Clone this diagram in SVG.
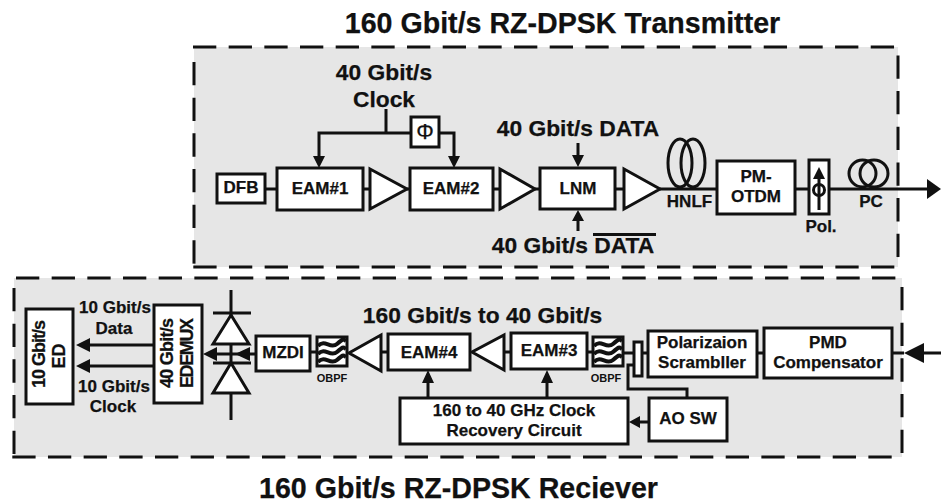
<svg xmlns="http://www.w3.org/2000/svg" width="941" height="502" viewBox="0 0 941 502">
<style>
text{font-family:"Liberation Sans",Arial,sans-serif;font-weight:bold;fill:#111;text-anchor:middle;stroke:#111;stroke-width:.25}
.t{font-size:28.6px}.m{font-size:22.8px}.s{font-size:17px}.r{font-size:18px}.x{font-size:11px;stroke-width:0}
.b{fill:#fff;stroke:#111;stroke-width:3}
.l{fill:none;stroke:#111;stroke-width:3}
.d{fill:none;stroke:#111;stroke-width:3;stroke-dasharray:23.3 12.37}
.h{fill:#111;stroke:none}
.w{fill:#fff;stroke:#111;stroke-width:3}
</style>
<defs>
<g id="filter">
<rect class="b" width="30" height="29"/>
<path d="M1 9C8 1 13 13 20 7S26 2 29 4M1 17C8 9 13 21 20 15S26 10 29 12M1 25C8 17 13 29 20 23S26 18 29 20" fill="none" stroke="#111" stroke-width="4"/>
</g>
</defs>
<rect x="194" y="47" width="704" height="220" fill="#e6e6e6"/>
<rect x="14" y="278" width="888" height="179" fill="#e6e6e6"/>
<g id="frames">
<path class="d" d="M193 47H898"/>
<path class="d" d="M898 55.400V267"/>
<path class="d" d="M193.300 267H898"/>
<path class="d" d="M194 62V267"/>
<path class="d" d="M16 278H902"/>
<path class="d" d="M902 287V457"/>
<path class="d" d="M12.300 457H902"/>
<path class="d" d="M14 288V457"/>
</g>
<g id="connectors">
<path class="l" d="M265 189H277M363 189H370M407 189H410M493 189H500M535 189H540M615 189H624M660 189H717M795 189H809M829 189H928"/>
<path class="l" d="M386 109V133M411 133H319V156M439 133H454V156"/>
<path class="l" d="M578 143V156M578 231V220"/>
<path class="h" d="M319 168L313 156H325ZM454 168L448 156H460ZM578 167L572 155H584ZM578 210L572 221H584Z"/>
<path class="h" d="M941 189L927 179V199Z"/>
<path class="l" d="M941 353H920M892 353H904M757 353H764M642 353H648M623 353H634M587 352H593M504 352H511M381 352H388M310 352H317M256 354H210"/>
<path class="h" d="M904 353L924 343V363Z"/>
<path class="l" d="M428 398V382M547 398V382M649 422H638M687 398V389H628V365H634"/>
<path class="h" d="M428 370L422 383H434ZM547 370L541 383H553ZM629 422L640 416V428Z"/>
<path class="l" d="M154 345H88M154 366H88"/>
<path class="h" d="M76 345L90 338V352ZM76 366L90 359V373ZM203 354L217 347V361ZM235 354L250 347V361Z"/>
</g>
<g id="dfb"><rect class="b" x="217" y="174" width="48" height="29"/><text class="s" x="241" y="193">DFB</text></g>
<g id="eam1"><rect class="b" x="277" y="168" width="86" height="42"/><text class="s" x="320" y="194">EAM#1</text></g>
<path id="amp1" class="b" d="M370 169L407 189L370 209Z"/>
<g id="eam2"><rect class="b" x="410" y="168" width="83" height="42"/><text class="s" x="451" y="194">EAM#2</text></g>
<path id="amp2" class="b" d="M500 169L535 189L500 209Z"/>
<g id="lnm"><rect class="b" x="540" y="168" width="75" height="41"/><text class="s" x="578" y="194">LNM</text></g>
<path id="amp3" class="b" d="M624 169L660 189L624 209Z"/>
<g id="phase"><rect class="b" x="411" y="117" width="28" height="30"/><text x="425" y="139" style="font-size:22px;font-weight:normal">Φ</text></g>
<g id="hnlf"><ellipse class="l" cx="680" cy="163" rx="12" ry="24"/><ellipse class="l" cx="693" cy="163" rx="12" ry="24"/><text class="s" x="689.500" y="207">HNLF</text></g>
<g id="otdm"><rect class="b" x="717" y="161" width="78" height="53"/><text class="s" x="756" y="182">PM-</text><text class="s" x="756" y="202">OTDM</text></g>
<g id="pol"><rect class="b" x="809" y="160" width="20" height="54"/><path class="l" d="M819 210V177"/><path class="h" d="M819 167L813 179H825Z"/><circle class="l" cx="819" cy="190" r="5.500"/><text class="s" x="821" y="232">Pol.</text></g>
<g id="pc"><ellipse class="l" cx="862.500" cy="173.500" rx="13.500" ry="13.500"/><ellipse class="l" cx="874" cy="173.500" rx="14" ry="13.500"/><text class="s" x="871" y="207">PC</text></g>
<g id="ed"><rect class="b" x="26" y="309" width="47" height="95"/><text class="r" transform="translate(45 354) rotate(-90)" textLength="68">10 Gbit/s</text><text class="r" transform="translate(65 356) rotate(-90)">ED</text></g>
<g id="edemux"><rect class="b" x="154" y="305" width="48" height="98"/><text class="r" transform="translate(173 353) rotate(-90)" textLength="70">40 Gbit/s</text><text class="r" transform="translate(193 353) rotate(-90)" textLength="70">EDEMUX</text></g>
<g id="diodes">
<path class="l" d="M231 290V344M231 393V420M213 313H251M213 363H251"/>
<path class="w" d="M231 315L249 344H213Z"/>
<path class="w" d="M231 363L249 393H213Z"/>
<path class="l" d="M231 344V363"/>
</g>
<g id="mzdi"><rect class="b" x="256" y="336" width="54" height="35"/><text class="s" x="283" y="358">MZDI</text></g>
<g id="obpf1"><use href="#filter" x="317" y="337"/><text class="x" x="332" y="382">OBPF</text></g>
<path id="amp4" class="b" d="M381 335V371L349 353Z"/>
<g id="eam4"><rect class="b" x="388" y="334" width="82" height="36"/><text class="s" x="429" y="358">EAM#4</text></g>
<path id="amp5" class="b" d="M504 335V370L472 352Z"/>
<g id="eam3"><rect class="b" x="511" y="333" width="76" height="36"/><text class="s" x="549" y="356">EAM#3</text></g>
<g id="obpf2"><use href="#filter" x="593" y="337"/><text class="x" x="606" y="382">OBPF</text></g>
<rect id="stick" class="b" x="634" y="342" width="8" height="34"/>
<g id="scrambler"><rect class="b" x="648" y="331" width="109" height="46"/><text class="s" x="702" y="348">Polarizaion</text><text class="s" x="702" y="368">Scrambller</text></g>
<g id="pmd"><rect class="b" x="764" y="328" width="128" height="50"/><text class="s" x="828" y="348">PMD</text><text class="s" x="828" y="368">Compensator</text></g>
<g id="clock"><rect class="b" x="400" y="398" width="228" height="46"/><text class="s" x="514" y="416">160 to 40 GHz Clock</text><text class="s" x="514" y="436">Recovery Circuit</text></g>
<g id="aosw"><rect class="b" x="649" y="398" width="78" height="43"/><text class="s" x="688" y="424">AO SW</text></g>
<g id="labels">
<text class="t" x="562.500" y="33">160 Gbit/s RZ-DPSK Transmitter</text>
<text class="t" x="458.500" y="498">160 Gbit/s RZ-DPSK Reciever</text>
<text class="m" x="384" y="80">40 Gbit/s</text>
<text class="m" x="384" y="107">Clock</text>
<text class="m" x="578" y="136">40 Gbit/s DATA</text>
<text class="m" x="573" y="253">40 Gbit/s DATA</text>
<path class="l" d="M593 234.500H656"/>
<text class="m" x="482.500" y="323">160 Gbit/s to 40 Gbit/s</text>
<text class="s" x="115" y="313">10 Gbit/s</text>
<text class="s" x="114" y="334">Data</text>
<text class="s" x="114" y="392">10 Gbit/s</text>
<text class="s" x="113" y="412">Clock</text>
</g>
</svg>
